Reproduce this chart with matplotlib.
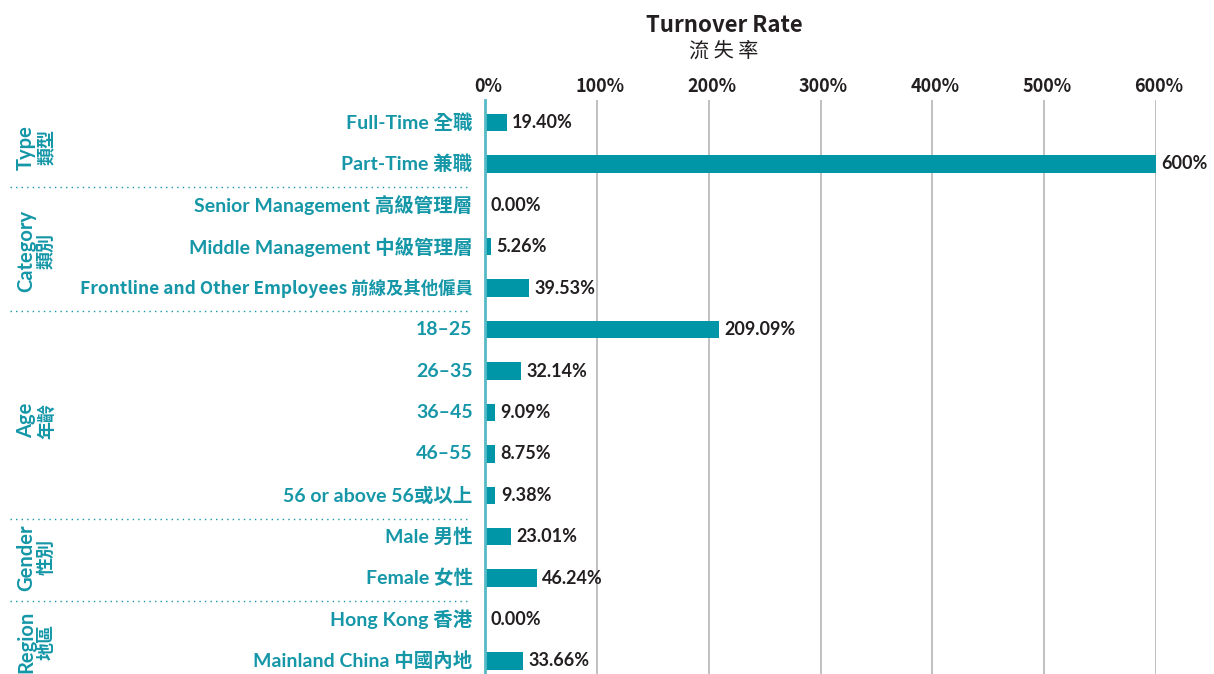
import matplotlib
matplotlib.use("Agg")
import matplotlib.pyplot as plt

categories = [
    "Full-Time 全職", "Part-Time 兼職",
    "Senior Management 高級管理層", "Middle Management 中級管理層",
    "Frontline and Other Employees 前線及其他僱員",
    "18–25", "26–35", "36–45", "46–55", "56 or above 56或以上",
    "Male 男性", "Female 女性",
    "Hong Kong 香港", "Mainland China 中國內地",
]
values = [19.40, 600, 0.00, 5.26, 39.53, 209.09, 32.14, 9.09, 8.75, 9.38,
          23.01, 46.24, 0.00, 33.66]
value_labels = ["19.40%", "600%", "0.00%", "5.26%", "39.53%", "209.09%",
                "32.14%", "9.09%", "8.75%", "9.38%", "23.01%", "46.24%",
                "0.00%", "33.66%"]
group_en = ["Type", "Category", "Age", "Gender", "Region"]
group_zh = ["類型", "類別", "年齡", "性別", "地區"]
group_span = [(0, 1), (2, 4), (5, 9), (10, 11), (12, 13)]
xticks = [0, 100, 200, 300, 400, 500, 600]
xtick_labels = ["0%", "100%", "200%", "300%", "400%", "500%", "600%"]

TEAL = "#0096A8"
TEAL_TXT = "#1597A8"
DARK = "#231F20"
LAT = ["Lato", "Noto Sans CJK TC", "DejaVu Sans"]
NARROW = ["Noto Sans CJK TC", "DejaVu Sans"]
CJK = ["Noto Sans CJK TC", "DejaVu Sans"]

W, H = 1214, 674
fig = plt.figure(figsize=(W / 100, H / 100), dpi=100)
ax_left, ax_right, ax_top = 485 / W, 1156 / W, 1 - 100 / H
ax = fig.add_axes([ax_left, 0, ax_right - ax_left, ax_top])

n = len(values)
ypos = list(range(n))
ax.barh(ypos, values, height=0.42, color=TEAL, zorder=3)
ax.set_xlim(0, 600)
row_px = 41.4
ax.set_ylim(13 + 13 / row_px, -22.5 / row_px)

for spine in ["top", "right", "bottom"]:
    ax.spines[spine].set_visible(False)
ax.spines["left"].set_color("#55B9C6")
ax.spines["left"].set_linewidth(2)
ax.spines["left"].set_zorder(4)
ax.set_xticks(xticks)
ax.set_xticklabels([])
ax.tick_params(axis="x", length=0)
ax.set_yticks([])
ax.grid(axis="x", color="#B5B5B5", linewidth=1.2, zorder=0)

for x, lab in zip(xticks, xtick_labels):
    fx = ax_left + (ax_right - ax_left) * x / 600 + 3 / W
    fig.text(fx, 1 - 86 / H, lab, ha="center", va="center", fontsize=13,
             fontweight="bold", family=NARROW, color=DARK)

for i, (v, lab) in enumerate(zip(values, value_labels)):
    ax.annotate(lab, (v, i), xytext=(4, 0), textcoords="offset points",
                ha="left", va="center", fontsize=13, fontweight="bold",
                family=LAT, color=DARK)

for i, cat in enumerate(categories):
    if cat.startswith("Frontline"):
        fam, fs = NARROW, 12.5
    else:
        fam, fs = LAT, 14
    ax.annotate(cat, (0, i), xytext=(-9, 0), textcoords="offset points",
                ha="right", va="center", fontsize=fs, fontweight="bold",
                family=fam, color=TEAL_TXT, annotation_clip=False)

label_shift_pt = [-3, -3, -6, 0, -1]
for gi, (en, zh, (a, b)) in enumerate(zip(group_en, group_zh, group_span)):
    yc = (a + b) / 2
    ax.annotate(en, xy=(0, yc), xycoords=("figure fraction", "data"),
                xytext=(26 / W, label_shift_pt[gi]),
                textcoords=("figure fraction", "offset points"),
                rotation=90, ha="center", va="center",
                fontsize=14.5, fontweight="bold", family=LAT, color=TEAL_TXT,
                annotation_clip=False)
    ax.annotate(zh, xy=(0, yc), xycoords=("figure fraction", "data"),
                xytext=(46 / W, label_shift_pt[gi]),
                textcoords=("figure fraction", "offset points"),
                rotation=90, ha="center", va="center",
                fontsize=13, fontweight="bold", family=CJK, color=TEAL_TXT,
                annotation_clip=False)
    if gi > 0:
        ysep = a - 0.5 + 0.06
        ax.plot([-475 / (1156 - 485) * 600, -15 / (1156 - 485) * 600], [ysep, ysep],
                color=TEAL_TXT, linestyle=(0, (1, 3)), linewidth=1.0,
                clip_on=False)

fig.text(724 / W, 1 - 25 / H, "Turnover Rate", ha="center", va="center",
         fontsize=16, fontweight="bold", family=NARROW, color=DARK)
fig.text(724 / W, 1 - 51 / H, "流 失 率", ha="center", va="center",
         fontsize=14.5, family=CJK, color=DARK)

fig.savefig("out.png", dpi=100)
